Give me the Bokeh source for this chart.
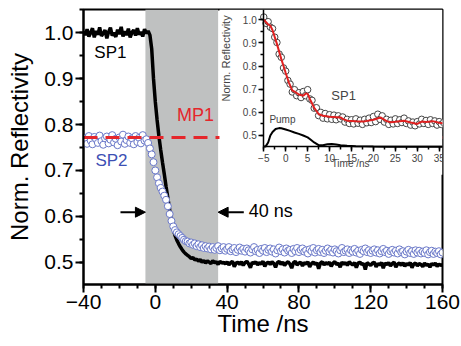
import math
from bokeh.plotting import figure
from bokeh.models import (Range1d, LinearAxis, SingleIntervalTicker, PrintfTickFormatter,
                          BoxAnnotation, Label, Arrow, NormalHead)
from bokeh.embed import file_html
from bokeh.resources import INLINE

FONT = "Liberation Sans"

# ---------------- data ----------------
# main panel: time grid starts at -40 ns, 1 ns step
t0_main = -40
sp1 = [
    1.003, 0.995, 1.008, 0.992, 1.000, 1.010, 0.990, 1.004, 0.996, 1.012,
    0.993, 0.999, 1.006, 0.988, 1.002, 1.011, 0.994, 1.000, 0.991, 1.007,
    0.997, 1.013, 0.992, 1.003, 0.995, 1.009, 0.990, 1.001, 1.006, 0.994,
    1.010, 0.996, 1.002, 0.992, 1.008, 0.999, 1.004, 0.995, 0.965, 0.900,
    0.850, 0.810, 0.775, 0.745, 0.718, 0.692, 0.665, 0.640, 0.615, 0.592,
    0.572, 0.558, 0.548, 0.540, 0.533, 0.527, 0.522, 0.518, 0.515, 0.512,
    0.508, 0.510, 0.505, 0.507, 0.502, 0.506, 0.500, 0.504, 0.498, 0.503,
    0.500, 0.497, 0.503, 0.499, 0.501, 0.495, 0.502, 0.498, 0.500, 0.496,
    0.501, 0.494, 0.499, 0.502, 0.490, 0.498, 0.500, 0.495, 0.501, 0.493,
    0.499, 0.502, 0.496, 0.488, 0.500, 0.497, 0.501, 0.494, 0.499, 0.496,
    0.502, 0.491, 0.498, 0.500, 0.495, 0.501, 0.497, 0.489, 0.499, 0.502,
    0.495, 0.500, 0.493, 0.498, 0.501, 0.496, 0.487, 0.499, 0.502, 0.494,
    0.498, 0.500, 0.492, 0.499, 0.496, 0.501, 0.490, 0.497, 0.500, 0.495,
    0.499, 0.486, 0.498, 0.501, 0.494, 0.499, 0.496, 0.500, 0.491, 0.498,
    0.501, 0.495, 0.498, 0.489, 0.500, 0.496, 0.499, 0.493, 0.501, 0.497,
    0.494, 0.499, 0.488, 0.498, 0.500, 0.495, 0.497, 0.484, 0.499, 0.496,
    0.493, 0.498, 0.500, 0.490, 0.497, 0.494, 0.499, 0.487, 0.498, 0.495,
    0.499, 0.492, 0.497, 0.500, 0.489, 0.496, 0.498, 0.493, 0.499, 0.491,
    0.497, 0.494, 0.499, 0.488, 0.496, 0.498, 0.492, 0.497, 0.495, 0.490,
    0.498, 0.493, 0.496, 0.489, 0.497, 0.494, 0.498, 0.491, 0.496, 0.493,
    0.495,
]
sp2 = [
    0.762, 0.771, 0.758, 0.775, 0.765, 0.757, 0.773, 0.768, 0.760, 0.776,
    0.764, 0.756, 0.770, 0.774, 0.759, 0.767, 0.777, 0.761, 0.769, 0.755,
    0.772, 0.763, 0.778, 0.758, 0.766, 0.774, 0.760, 0.770, 0.757, 0.775,
    0.762, 0.771, 0.759, 0.777, 0.765, 0.768, 0.760, 0.748, 0.735, 0.718,
    0.700, 0.685, 0.672, 0.662, 0.654, 0.645, 0.636, 0.622, 0.605, 0.590,
    0.578, 0.570, 0.565, 0.561, 0.557, 0.553, 0.549, 0.546, 0.545, 0.541,
    0.543, 0.538, 0.541, 0.535, 0.539, 0.533, 0.537, 0.531, 0.535, 0.530,
    0.534, 0.528, 0.533, 0.527, 0.531, 0.535, 0.526, 0.530, 0.533, 0.525,
    0.529, 0.533, 0.524, 0.528, 0.531, 0.522, 0.527, 0.532, 0.525, 0.529,
    0.523, 0.530, 0.526, 0.521, 0.528, 0.533, 0.524, 0.527, 0.520, 0.529,
    0.525, 0.531, 0.522, 0.527, 0.530, 0.523, 0.528, 0.519, 0.526, 0.532,
    0.524, 0.528, 0.521, 0.530, 0.525, 0.527, 0.520, 0.529, 0.524, 0.531,
    0.522, 0.527, 0.530, 0.523, 0.526, 0.519, 0.528, 0.524, 0.531, 0.521,
    0.526, 0.529, 0.522, 0.527, 0.520, 0.525, 0.530, 0.523, 0.527, 0.521,
    0.528, 0.524, 0.519, 0.526, 0.531, 0.522, 0.525, 0.528, 0.520, 0.526,
    0.523, 0.529, 0.521, 0.525, 0.518, 0.527, 0.524, 0.530, 0.522, 0.526,
    0.520, 0.525, 0.528, 0.521, 0.526, 0.519, 0.524, 0.529, 0.522, 0.525,
    0.518, 0.524, 0.527, 0.521, 0.525, 0.519, 0.528, 0.522, 0.524, 0.517,
    0.523, 0.527, 0.520, 0.524, 0.518, 0.526, 0.521, 0.525, 0.519, 0.523,
    0.520, 0.526, 0.517, 0.522, 0.525, 0.518, 0.523, 0.520, 0.524, 0.517,
    0.521,
]
t_main = [t0_main + i for i in range(len(sp1))]
t_sp2 = [t0_main + i for i in range(len(sp2))]
mp1_level = 0.772
pump_window = (-5.5, 35.0)   # grey 40 ns window
x_ticks_main = (-40, 160)

# inset: SP1 data, 0.5 ns step from -5 ns
t0_inset = -5.0
inset_sp1 = [
    1.012, 0.985, 0.992, 0.968, 0.962, 0.925, 0.902, 0.852, 0.838, 0.792,
    0.778, 0.738, 0.722, 0.688, 0.698, 0.672, 0.685, 0.664, 0.690, 0.672,
    0.698, 0.658, 0.652, 0.618, 0.620, 0.586, 0.600, 0.575, 0.595, 0.572,
    0.590, 0.570, 0.588, 0.568, 0.585, 0.572, 0.580, 0.558, 0.570, 0.552,
    0.568, 0.550, 0.572, 0.553, 0.566, 0.548, 0.570, 0.555, 0.575, 0.556,
    0.582, 0.560, 0.592, 0.570, 0.585, 0.558, 0.570, 0.548, 0.566, 0.550,
    0.572, 0.552, 0.568, 0.556, 0.575, 0.552, 0.563, 0.545, 0.558, 0.542,
    0.560, 0.550, 0.570, 0.552, 0.565, 0.548, 0.568, 0.552, 0.563, 0.545,
    0.560, 0.548, 0.556,
]
t_inset = [t0_inset + 0.5 * i for i in range(len(inset_sp1))]

fit_t = [-5, -4, -3.5, -3, -2, -1, -0.4, 0, 0.7, 1.5, 2, 3, 4, 4.6, 5, 5.7, 6.5, 7.5,
         8.5, 10, 12.5, 13, 14, 16, 18, 20, 21.6, 23, 24, 25, 27, 28.5, 30, 31, 32,
         33.5, 35, 36]
fit_y = [1.0, 0.98, 0.975, 0.955, 0.896, 0.83, 0.795, 0.77, 0.73, 0.695, 0.69, 0.677,
         0.672, 0.682, 0.68, 0.65, 0.62, 0.593, 0.585, 0.581, 0.578, 0.572, 0.564,
         0.562, 0.561, 0.568, 0.578, 0.562, 0.557, 0.559, 0.564, 0.556, 0.55, 0.56,
         0.558, 0.562, 0.555, 0.553]

pump_t = [-5, -4.6, -4, -3.5, -3, -2.3, -1.5, -1, 0, 1, 2, 3, 4, 5, 5.5, 6.5, 7.5,
          8.5, 9.5, 10.5, 11.5, 12.5, 14, 16, 18, 20, 23, 26, 30, 36]
pump_y = [0.452, 0.452, 0.47, 0.50, 0.515, 0.528, 0.532, 0.531, 0.526, 0.52, 0.513,
          0.507, 0.5, 0.492, 0.485, 0.47, 0.458, 0.458, 0.462, 0.463, 0.461, 0.458,
          0.456, 0.454, 0.453, 0.452, 0.451, 0.451, 0.451, 0.451]

# ---------------- figure ----------------
p = figure(width=461, height=346, output_backend="svg", toolbar_location=None, tools="",
           x_range=Range1d(-40, 160), y_range=Range1d(0.4514, 1.0508),
           min_border_left=83, min_border_right=19, min_border_top=9, min_border_bottom=62)
p.grid.visible = False
p.background_fill_color = "white"
p.border_fill_color = "white"
p.outline_line_color = "black"
p.outline_line_width = 2
p.outline_line_alpha = 1

# inset coordinate system (extra ranges over the same frame)
p.extra_x_ranges = {"ix": Range1d(-46.1, 35.75)}
p.extra_y_ranges = {"iy": Range1d(-0.1439, 1.0445)}

xa = p.below[0]
ya = p.left[0]
xa.ticker = SingleIntervalTicker(interval=40, num_minor_ticks=4)
ya.ticker = SingleIntervalTicker(interval=0.1, num_minor_ticks=2)
ya.formatter = PrintfTickFormatter(format="%.1f")
xa.axis_label = "Time /ns"
ya.axis_label = "Norm. Reflectivity"
for ax in (xa, ya):
    ax.axis_line_width = 2
    ax.axis_line_color = "black"
    ax.major_tick_line_width = 2
    ax.minor_tick_line_width = 2
    ax.major_tick_out = 8
    ax.major_tick_in = 0
    ax.minor_tick_out = 4
    ax.minor_tick_in = 0
    ax.major_label_text_font = FONT
    ax.major_label_text_font_size = "21px"
    ax.major_label_text_color = "black"
    ax.major_label_standoff = 2
    ax.axis_label_text_font = FONT
    ax.axis_label_text_font_size = "24px"
    ax.axis_label_text_font_style = "normal"
    ax.axis_label_text_color = "black"
xa.axis_label_standoff = -2
ya.axis_label_standoff = 8

# grey window
p.add_layout(BoxAnnotation(left=pump_window[0], right=pump_window[1], fill_color="#bfc1c1",
                           fill_alpha=1, line_color=None, level="underlay"))

# main data
p.line(t_main, sp1, line_color="black", line_width=3.5)
p.scatter(t_sp2, sp2, marker="circle", size=7, line_color="#6b79c9", line_width=1,
          fill_color="white")
p.line(list(x_ticks_main), [mp1_level, mp1_level], line_color="#e5262b", line_width=3,
       line_dash="14 8")

# main labels
p.add_layout(Label(x=-25, y=0.957, text="SP1", text_font=FONT, text_font_size="17px",
                   text_color="black", text_align="center", text_baseline="middle"))
p.add_layout(Label(x=-24.4, y=0.722, text="SP2", text_font=FONT, text_font_size="17px",
                   text_color="#3d50b4", text_align="center", text_baseline="middle"))
p.add_layout(Label(x=22.4, y=0.82, text="MP1", text_font=FONT, text_font_size="18px",
                   text_color="#e5262b", text_align="center", text_baseline="middle"))
p.add_layout(Label(x=52, y=0.611, text="40 ns", text_font=FONT, text_font_size="18px",
                   text_color="black", text_align="left", text_baseline="middle"))
p.add_layout(Arrow(end=NormalHead(size=10, fill_color="black", line_color="black"),
                   x_start=-19.4, y_start=0.609, x_end=pump_window[0], y_end=0.609,
                   line_width=2, line_color="black"))
p.add_layout(Arrow(end=NormalHead(size=10, fill_color="black", line_color="black"),
                   x_start=49.3, y_start=0.609, x_end=pump_window[1], y_end=0.609,
                   line_width=2, line_color="black"))

# ---------------- inset ----------------
p.quad(left=[-15.1], right=[35.75], bottom=[0.33], top=[1.0445], fill_color="white",
       line_color=None, x_range_name="ix", y_range_name="iy")
p.line(pump_t, pump_y, line_color="black", line_width=2, x_range_name="ix", y_range_name="iy")
p.scatter(t_inset, inset_sp1, marker="circle", size=6.5, line_color="#444444", line_width=1,
          fill_color="white", x_range_name="ix", y_range_name="iy")
p.line(fit_t, fit_y, line_color="#e02020", line_width=2, x_range_name="ix", y_range_name="iy")

iax = LinearAxis(x_range_name="ix", y_range_name="iy", fixed_location=0.452,
                 bounds=(-5, 35.75), ticker=SingleIntervalTicker(interval=5, num_minor_ticks=2))
iay = LinearAxis(x_range_name="ix", y_range_name="iy", fixed_location=-5,
                 bounds=(0.452, 1.0445), ticker=SingleIntervalTicker(interval=0.1, num_minor_ticks=2),
                 formatter=PrintfTickFormatter(format="%.1f"))
for ax in (iax, iay):
    ax.axis_line_width = 1.5
    ax.major_tick_line_width = 1.5
    ax.minor_tick_line_width = 1.5
    ax.major_tick_out = 5
    ax.major_tick_in = 0
    ax.minor_tick_out = 3
    ax.minor_tick_in = 0
    ax.major_label_text_font = FONT
    ax.major_label_text_font_size = "10px"
    ax.major_label_standoff = 2
p.add_layout(iax, "below")
p.add_layout(iay, "left")

p.add_layout(Label(x=-13.7, y=0.833, text="Norm. Reflectivity", angle=math.pi / 2,
                   text_font=FONT, text_font_size="11px", text_align="center",
                   text_baseline="middle", x_range_name="ix", y_range_name="iy"))
p.add_layout(Label(x=14.8, y=0.379, text="Time /ns", text_font=FONT, text_font_size="10px",
                   text_align="center", text_baseline="middle", x_range_name="ix", y_range_name="iy"))
p.add_layout(Label(x=13.2, y=0.673, text="SP1", text_font=FONT, text_font_size="13px",
                   text_align="center", text_baseline="middle", x_range_name="ix", y_range_name="iy"))
p.add_layout(Label(x=-0.74, y=0.571, text="Pump", text_font=FONT, text_font_size="10px",
                   text_align="center", text_baseline="middle", x_range_name="ix", y_range_name="iy"))

open("out.html", "w").write(file_html(p, INLINE))
